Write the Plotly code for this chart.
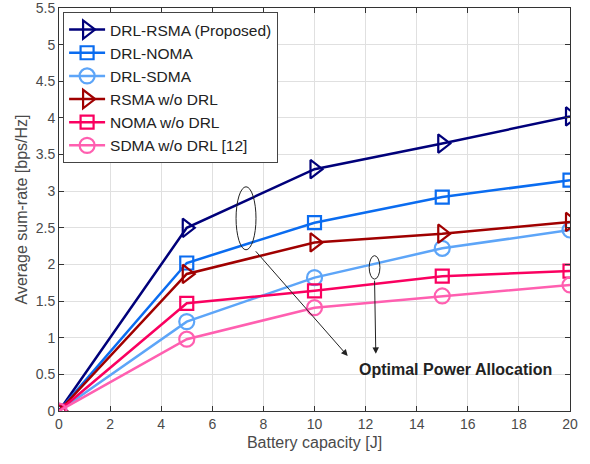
import plotly.graph_objects as go

battery = [0, 5, 10, 15, 20]
drl_rsma = [0, 2.50, 3.30, 3.65, 4.02]
drl_noma = [0, 2.02, 2.57, 2.92, 3.15]
drl_sdma = [0, 1.22, 1.82, 2.22, 2.47]
rsma_wo = [0, 1.87, 2.30, 2.42, 2.58]
noma_wo = [0, 1.47, 1.64, 1.84, 1.91]
sdma_wo = [0, 0.98, 1.41, 1.57, 1.72]

names = ["DRL-RSMA (Proposed)", "DRL-NOMA", "DRL-SDMA",
         "RSMA w/o DRL", "NOMA w/o DRL", "SDMA w/o DRL [12]"]
series = [drl_rsma, drl_noma, drl_sdma, rsma_wo, noma_wo, sdma_wo]
colors = ["#00007A", "#0A6CF0", "#5DA5F8", "#A00000", "#FA0060", "#FF5FB0"]
symbols = ["triangle-right-open", "square-open", "circle-open",
           "triangle-right-open", "square-open", "circle-open"]
sizes = [16, 13, 15, 16, 13, 15]

FONT = "Liberation Sans, Arial, Helvetica"

fig = go.Figure()
for n, s, c, m, sz in zip(names, series, colors, symbols, sizes):
    fig.add_trace(go.Scatter(
        x=battery, y=s, name=n, mode="lines+markers",
        line=dict(color=c, width=2.5),
        marker=dict(symbol=m, size=sz, color=c, line=dict(width=2.2, color=c)),
    ))

# ellipses
fig.add_shape(type="circle", xref="x", yref="y", x0=6.93, x1=7.71, y0=2.20, y1=3.06,
              line=dict(color="#222", width=1))
fig.add_shape(type="circle", xref="x", yref="y", x0=12.14, x1=12.56, y0=1.80, y1=2.12,
              line=dict(color="#222", width=1))

# arrows
fig.add_annotation(x=11.3, y=0.75, ax=7.65, ay=2.20, xref="x", yref="y",
                   axref="x", ayref="y", showarrow=True, arrowhead=2,
                   arrowsize=1.3, arrowwidth=1, arrowcolor="#222", text="")
fig.add_annotation(x=12.4, y=0.78, ax=12.35, ay=1.80, xref="x", yref="y",
                   axref="x", ayref="y", showarrow=True, arrowhead=2,
                   arrowsize=1.3, arrowwidth=1, arrowcolor="#222", text="")
fig.add_annotation(x=15.5, y=0.56, xref="x", yref="y", showarrow=False,
                   text="<b>Optimal Power Allocation</b>",
                   font=dict(size=16, color="#222", family=FONT))

axis_common = dict(showgrid=True, gridcolor="#E0E0E0", gridwidth=1,
                   showline=True, linecolor="#333", linewidth=1, mirror="ticks",
                   ticks="inside", ticklen=5, tickcolor="#333",
                   ticklabeloverflow="allow",
                   zeroline=False, tickfont=dict(size=14, color="#4a4a4a", family=FONT),
                   title_font=dict(size=16, color="#4a4a4a", family=FONT))

fig.update_xaxes(range=[0, 20], dtick=2, title_text="Battery capacity [J]",
                 title_standoff=6, **axis_common)
fig.update_yaxes(range=[0, 5.5], dtick=0.5, title_text="Average sum-rate [bps/Hz]",
                 title_standoff=4, **axis_common)

fig.update_layout(
    width=590, height=464,
    margin=dict(l=59, r=20, t=8, b=53, autoexpand=False),
    plot_bgcolor="white", paper_bgcolor="white",
    font=dict(family=FONT, color="#222"),
    legend=dict(x=0.008, y=0.99, xanchor="left", yanchor="top",
                bgcolor="white", bordercolor="#444", borderwidth=1,
                font=dict(size=15.5, color="#222", family=FONT), tracegroupgap=0,
                itemwidth=36),
    showlegend=True,
)

fig.write_html("out.html", config={"displayModeBar": False},
               post_script="document.body.style.margin='0';")
